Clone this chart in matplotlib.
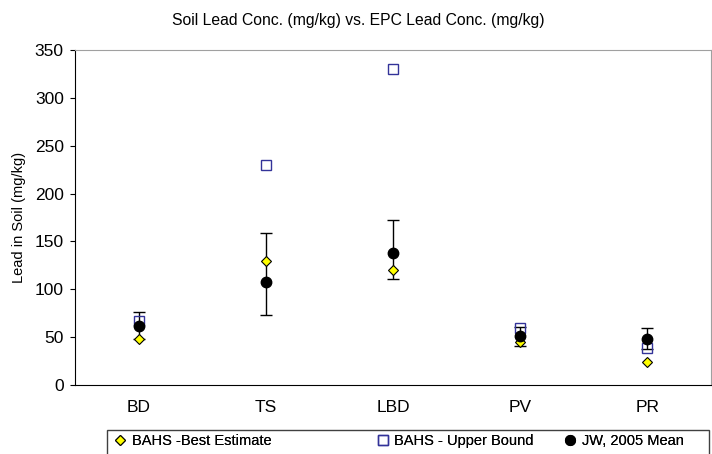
import matplotlib
matplotlib.use("Agg")
import matplotlib.pyplot as plt
import numpy as np
from matplotlib.lines import Line2D
from matplotlib.patches import Rectangle

plt.rcParams['font.family'] = ['Liberation Sans', 'DejaVu Sans']

categories = ["BD", "TS", "LBD", "PV", "PR"]
best_estimate = [48, 130, 120, 45, 24]
upper_bound = [67, 230, 330, 60, 39]
jw_mean = [62, 108, 138, 51, 48]
jw_err_low = [14, 35, 27, 10, 10]
jw_err_high = [14, 51, 34, 10, 12]
labels = ["BAHS -Best Estimate", "BAHS - Upper Bound", "JW, 2005 Mean"]

W, H = 712, 454
fig = plt.figure(figsize=(W/100, H/100), dpi=100)
ax = fig.add_axes([75/W, 1-385/H, 636/W, 335/H])

x = np.arange(len(categories))
ax.errorbar(x, jw_mean, yerr=[jw_err_low, jw_err_high], fmt='none',
            ecolor='black', elinewidth=1, capsize=4, capthick=1, zorder=2)
ax.plot(x, best_estimate, linestyle='none', marker='D', markersize=5.5,
        markerfacecolor='#ffff00', markeredgecolor='black', markeredgewidth=0.8, zorder=3)
ax.plot(x, upper_bound, linestyle='none', marker='s', markersize=7,
        markerfacecolor='none', markeredgecolor='#333399', markeredgewidth=1, zorder=4)
ax.plot(x, jw_mean, linestyle='none', marker='o', markersize=7.5,
        markerfacecolor='black', markeredgecolor='black', zorder=5)

ax.set_xlim(-0.5, len(categories)-0.5)
ax.set_ylim(0, 350)
ax.set_yticks(np.arange(0, 351, 50))
ax.set_xticks(x)
ax.set_xticklabels(categories)
ax.tick_params(axis='x', length=0, pad=11, labelsize=12.5)
ax.tick_params(axis='y', length=3.6, direction='out', labelsize=12.5, pad=4.5)
for s in ['top', 'right']:
    ax.spines[s].set_color('#a0a0a0')
for s in ['left', 'bottom']:
    ax.spines[s].set_color('black')
ax.set_ylabel("Lead in Soil (mg/kg)", fontsize=10.5, labelpad=6)

fig.text(358/W, 1-20/H, "Soil Lead Conc. (mg/kg) vs. EPC Lead Conc. (mg/kg)",
         ha='center', va='center', fontsize=11.3)

# legend frame (bottom cut off by figure edge)
fig.patches.append(Rectangle((107/W, 1-470/H), 602/W, 40/H, transform=fig.transFigure,
                             facecolor='white', edgecolor='#404040', linewidth=1))

leg_handles = [
    Line2D([], [], linestyle='none', marker='D', markersize=5.5, markerfacecolor='#ffff00',
           markeredgecolor='black', markeredgewidth=0.8),
    Line2D([], [], linestyle='none', marker='s', markersize=7, markerfacecolor='none',
           markeredgecolor='#333399'),
    Line2D([], [], linestyle='none', marker='o', markersize=7, markerfacecolor='black',
           markeredgecolor='black'),
]
leg_x = [114, 377, 564]
for hnd, lab, lx in zip(leg_handles, labels, leg_x):
    lg = fig.legend([hnd], [lab], loc='center left', bbox_to_anchor=(lx/W, 1-441/H),
                    frameon=False, fontsize=10.5, handlelength=0.8, handletextpad=0.4,
                    borderpad=0, borderaxespad=0)
    fig.add_artist(lg)

fig.savefig("out.png", dpi=100)
